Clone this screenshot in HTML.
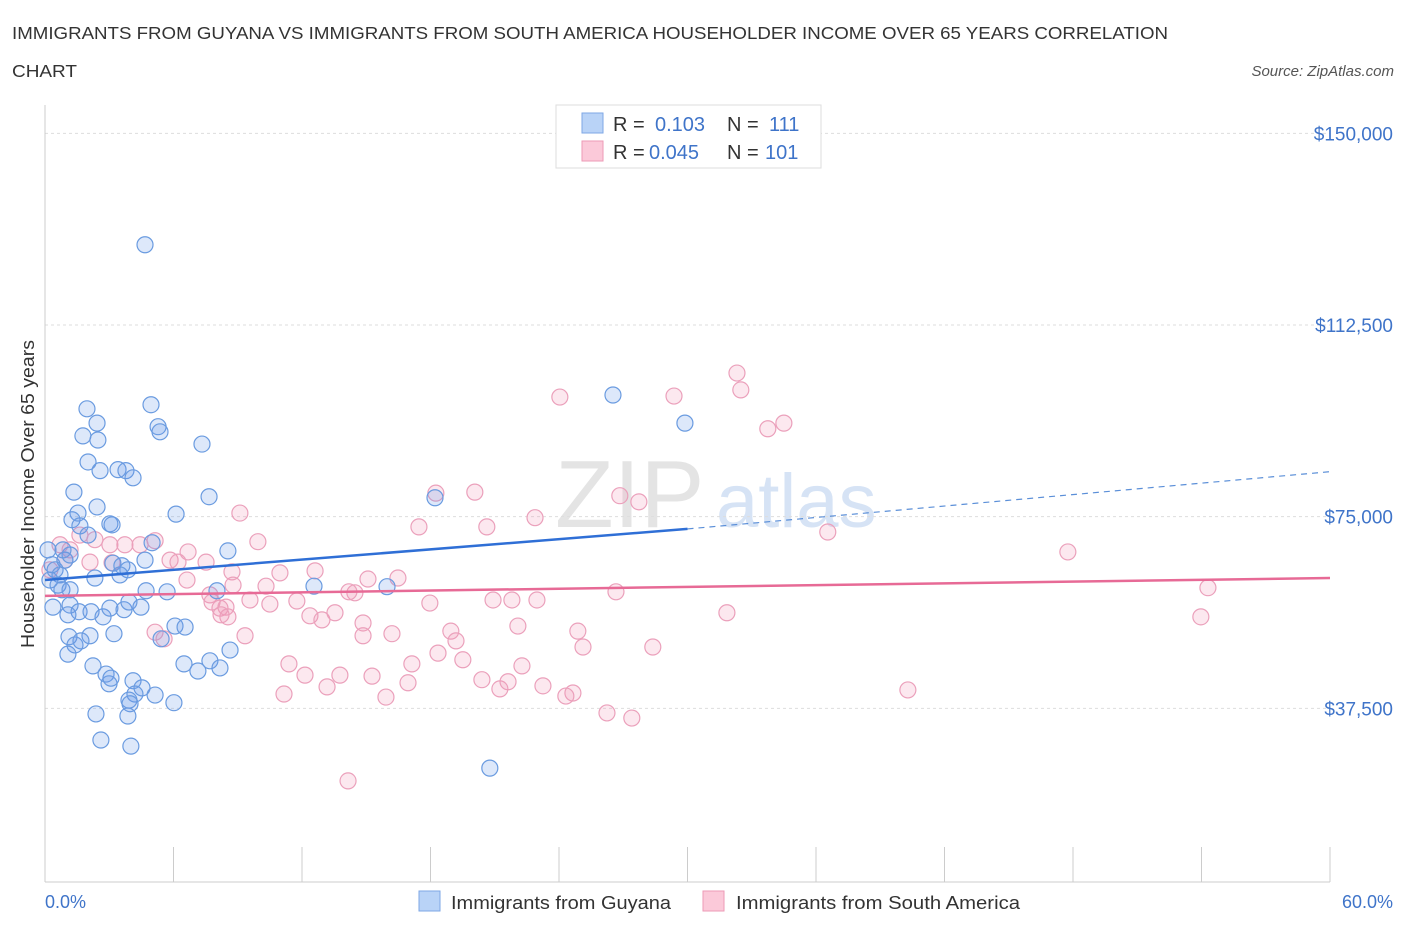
<!DOCTYPE html>
<html><head><meta charset="utf-8"><style>
body{margin:0;background:#fff;font-family:"Liberation Sans",sans-serif;}
svg text{font-family:"Liberation Sans",sans-serif;}
</style></head><body>
<svg id="chart" width="1406" height="930" xmlns="http://www.w3.org/2000/svg">
<text x="12" y="39" font-size="17.5" fill="#333" textLength="1156" lengthAdjust="spacingAndGlyphs">IMMIGRANTS FROM GUYANA VS IMMIGRANTS FROM SOUTH AMERICA HOUSEHOLDER INCOME OVER 65 YEARS CORRELATION</text>
<text x="12" y="77" font-size="17.5" fill="#333" textLength="65" lengthAdjust="spacingAndGlyphs">CHART</text>
<text x="1394" y="76" font-size="15" fill="#555" font-style="italic" text-anchor="end">Source: ZipAtlas.com</text>
<text x="555" y="527" font-size="96" fill="#e4e4e4" font-family="Liberation Serif">ZIP</text>
<text x="716" y="527" font-size="76" fill="#d6e3f5">atlas</text>
<g id="grid"></g><g id="axes"></g>
<text transform="translate(34,494) rotate(-90)" font-size="18.5" fill="#333" text-anchor="middle" textLength="308" lengthAdjust="spacingAndGlyphs">Householder Income Over 65 years</text>
<text x="45" y="908" font-size="18" fill="#3f74c9">0.0%</text>
<text x="1393" y="908" font-size="18" fill="#3f74c9" text-anchor="end">60.0%</text>
<g id="marks"></g><g id="trends"></g>
<g>
<rect x="556" y="105" width="265" height="63" fill="#fff" stroke="#ddd"/>
<rect x="582" y="113" width="21" height="20" fill="#b9d3f7" stroke="#7ea7e6"/>
<rect x="582" y="141" width="21" height="20" fill="#fbc9d9" stroke="#ec9ab6"/>
<text x="613" y="131" font-size="20" fill="#333">R =</text><text x="655" y="131" font-size="20" fill="#3f74c9">0.103</text>
<text x="727" y="131" font-size="20" fill="#333">N =</text><text x="769" y="131" font-size="20" fill="#3f74c9">111</text>
<text x="613" y="159" font-size="20" fill="#333">R =</text><text x="649" y="159" font-size="20" fill="#3f74c9">0.045</text>
<text x="727" y="159" font-size="20" fill="#333">N =</text><text x="765" y="159" font-size="20" fill="#3f74c9">101</text>
</g>
<g>
<rect x="419" y="891" width="21" height="20" fill="#b9d3f7" stroke="#7ea7e6"/>
<text x="451" y="909" font-size="18.5" fill="#333" textLength="220" lengthAdjust="spacingAndGlyphs">Immigrants from Guyana</text>
<rect x="703" y="891" width="21" height="20" fill="#fbc9d9" stroke="#ec9ab6"/>
<text x="736" y="909" font-size="18.5" fill="#333" textLength="284" lengthAdjust="spacingAndGlyphs">Immigrants from South America</text>
</g>
</svg>
<script>
const yTicks=[37500,75000,112500,150000];
const yTickLabels=["$37,500","$75,000","$112,500","$150,000"];
const xTicks=[0,6,12,18,24,30,36,42,48,54,60];
const blueX=[4.67,0.33,0.47,0.70,0.23,0.61,0.93,1.17,0.79,0.14,1.96,4.95,26.52,29.88,2.43,1.77,2.47,5.28,5.37,7.33,2.01,2.57,3.41,3.78,4.11,1.35,2.43,7.66,18.21,1.54,1.26,1.63,3.03,3.13,6.12,2.01,0.84,5.00,8.54,3.17,3.59,3.87,4.67,3.50,2.33,1.17,4.72,5.70,12.56,15.97,8.03,1.17,1.59,2.15,2.71,3.03,3.69,4.48,3.92,0.37,1.07,6.07,6.54,5.42,1.12,2.10,3.22,1.40,1.07,1.68,8.64,2.24,2.85,2.99,3.08,6.49,7.14,7.70,8.17,4.11,4.53,4.20,3.92,5.14,3.97,6.02,2.38,3.87,2.61,4.01,20.77];
const blueY=[128.2,65.6,64.6,63.6,62.6,61.6,66.5,67.5,60.7,68.5,96.1,96.9,98.8,93.3,93.3,90.8,90.0,92.6,91.6,89.2,85.7,84.0,84.2,84.0,82.6,79.8,76.9,78.9,78.7,75.7,74.4,73.2,73.6,73.4,75.5,71.4,68.5,69.9,68.3,65.9,65.4,64.6,66.5,63.6,63.0,60.7,60.5,60.3,61.4,61.3,60.5,57.7,56.4,56.4,55.4,57.1,56.8,57.3,58.3,57.3,55.8,53.6,53.4,51.1,51.5,51.7,52.1,49.9,48.1,50.7,48.9,45.8,44.2,42.3,43.4,46.2,44.8,46.8,45.4,42.9,41.5,40.3,39.1,40.1,38.4,38.6,36.4,36.0,31.3,30.1,25.8];
const pinkX=[32.31,32.49,24.04,29.37,34.50,33.75,18.25,20.07,26.84,27.73,22.88,17.46,20.63,36.55,9.10,47.76,54.30,53.97,0.70,1.17,1.63,2.33,3.03,3.73,4.44,5.14,0.93,2.10,0.23,3.13,5.84,6.68,6.21,7.52,8.73,9.94,10.32,10.97,12.61,8.78,7.70,6.63,14.47,15.08,16.48,14.19,17.97,10.50,11.76,8.17,9.57,7.80,26.66,20.92,21.80,22.97,12.37,12.93,13.54,14.85,8.45,8.54,22.08,14.85,16.20,24.88,18.95,19.19,31.84,25.12,28.38,5.14,8.22,5.56,9.34,18.35,19.51,17.13,22.27,11.39,12.14,13.77,15.27,16.95,20.40,21.24,21.62,23.25,24.65,24.32,13.17,15.92,11.16,40.29,26.24,27.40,14.15];
const pinkY=[103.1,99.8,98.4,98.6,93.3,92.2,79.6,79.8,79.1,77.9,74.8,73.0,73.0,72.0,75.7,68.1,61.1,55.4,69.5,68.5,71.4,70.5,69.5,69.5,69.5,70.3,66.5,66.1,64.6,66.0,66.5,68.1,66.1,66.1,64.2,70.1,61.4,64.0,64.4,61.6,59.7,62.6,60.1,62.8,63.0,60.3,58.1,57.9,58.5,57.1,58.7,58.3,60.3,58.7,58.7,58.7,55.6,54.8,56.2,54.2,57.3,55.4,53.6,51.7,52.1,52.6,52.6,50.7,56.2,49.5,49.5,52.4,55.8,51.1,51.7,48.3,47.0,46.2,45.8,46.2,44.0,44.0,43.8,42.5,43.1,41.3,42.7,41.9,40.5,39.9,41.7,39.7,40.3,41.1,36.6,35.6,23.3];
const blueTrendX=[0,30,60];
const blueTrendY=[62.6,72.6,83.8];
const pinkTrendX=[0,60];
const pinkTrendY=[59.5,63.0];

const NS="http://www.w3.org/2000/svg";
function xs(v){return 45+v/60*1285;}
function ys(k){return 900-k*1000/195.65;}
function mk(tag,attrs,parent){const e=document.createElementNS(NS,tag);for(const a in attrs)e.setAttribute(a,attrs[a]);document.getElementById(parent).appendChild(e);return e;}

yTicks.forEach((t,i)=>{
  const l=mk('line',{x1:45,x2:1330,y1:ys(t/1000),y2:ys(t/1000),stroke:'#ddd','stroke-dasharray':'3,3'},'grid');
  
  
  const tx=mk('text',{x:1393,y:ys(t/1000)+7,'font-size':19,fill:'#3f74c9','text-anchor':'end'},'grid');
  tx.textContent=yTickLabels[i];
  
  
});
const ax=mk('line',{x1:45,x2:45,y1:105,y2:882,stroke:'#ccc'},'axes');


const bx=mk('line',{x1:45,x2:1330,y1:882,y2:882,stroke:'#ccc'},'axes');


xTicks.forEach(t=>{
  const l=mk('line',{x1:xs(t),x2:xs(t),y1:847,y2:882,stroke:'#ccc'},'axes');
  
  
});
pinkX.forEach((v,i)=>{
  const c=mk('circle',{cx:xs(v),cy:ys(pinkY[i]),r:8,fill:'rgba(240,150,180,0.22)',stroke:'#eba0bb','stroke-width':1.2},'marks');
  
  
});
blueX.forEach((v,i)=>{
  const c=mk('circle',{cx:xs(v),cy:ys(blueY[i]),r:8,fill:'rgba(100,150,230,0.22)',stroke:'#6a9be0','stroke-width':1.2},'marks');
  
  
});
const b1=mk('line',{x1:xs(blueTrendX[0]),y1:ys(blueTrendY[0]),x2:xs(blueTrendX[1]),y2:ys(blueTrendY[1]),stroke:'#2f6fd6','stroke-width':2.5},'trends');


const b2=mk('line',{x1:xs(blueTrendX[1]),y1:ys(blueTrendY[1]),x2:xs(blueTrendX[2]),y2:ys(blueTrendY[2]),stroke:'#5b8fd8','stroke-width':1.2,'stroke-dasharray':'6,5'},'trends');


const p1=mk('line',{x1:xs(pinkTrendX[0]),y1:ys(pinkTrendY[0]),x2:xs(pinkTrendX[1]),y2:ys(pinkTrendY[1]),stroke:'#e76a96','stroke-width':2.5},'trends');


</script>
</body></html>
